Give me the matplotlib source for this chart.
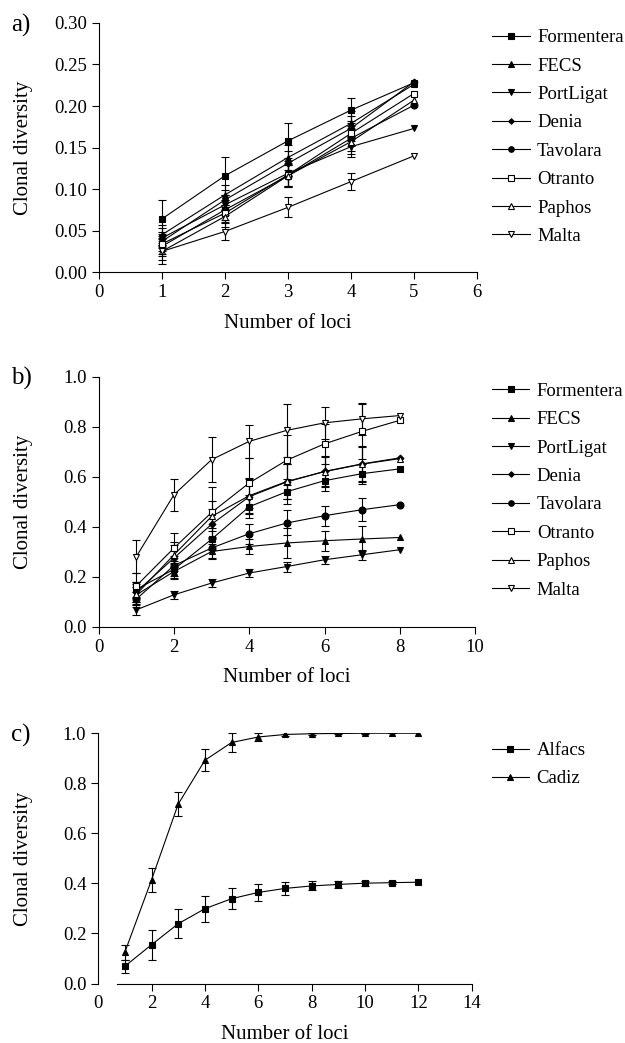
import numpy as np
import matplotlib
matplotlib.use('Agg')
import matplotlib.pyplot as plt

plt.rcParams['font.family'] = ['Liberation Serif', 'DejaVu Serif']
plt.rcParams['font.size'] = 13.5

sites = ['Formentera', 'FECS', 'PortLigat', 'Denia', 'Tavolara', 'Otranto', 'Paphos', 'Malta']
markers = ['s', '^', 'v', 'D', 'o', 's', '^', 'v']
filled = [True, True, True, True, True, False, False, False]

# panel a) loci 1..5
loci_a = [1, 2, 3, 4, 5]
div_a = {
    'Formentera': [0.064, 0.116, 0.158, 0.195, 0.228],
    'FECS':       [0.045, 0.093, 0.138, 0.179, 0.226],
    'PortLigat':  [0.041, 0.081, 0.119, 0.151, 0.173],
    'Denia':      [0.037, 0.087, 0.131, 0.173, 0.229],
    'Tavolara':   [0.031, 0.075, 0.116, 0.161, 0.201],
    'Otranto':    [0.034, 0.071, 0.117, 0.167, 0.215],
    'Paphos':     [0.025, 0.067, 0.116, 0.157, 0.207],
    'Malta':      [0.025, 0.049, 0.078, 0.109, 0.140],
}
err_a = {
    'Formentera': [0.023, 0.023, 0.021, 0.015, 0],
    'FECS':       [0.012, 0.012, 0.015, 0.015, 0],
    'PortLigat':  [0.012, 0.012, 0.015, 0.012, 0],
    'Denia':      [0.012, 0.012, 0.015, 0.015, 0],
    'Tavolara':   [0.012, 0.012, 0.013, 0.015, 0],
    'Otranto':    [0.012, 0.010, 0.013, 0.015, 0],
    'Paphos':     [0.015, 0.012, 0.013, 0.015, 0],
    'Malta':      [0.010, 0.010, 0.012, 0.010, 0],
}

# panel b) loci 1..8
loci_b = [1, 2, 3, 4, 5, 6, 7, 8]
div_b = {
    'Formentera': [0.150, 0.230, 0.350, 0.480, 0.540, 0.584, 0.612, 0.631],
    'FECS':       [0.128, 0.221, 0.301, 0.321, 0.335, 0.344, 0.351, 0.357],
    'PortLigat':  [0.068, 0.128, 0.175, 0.215, 0.241, 0.268, 0.288, 0.308],
    'Denia':      [0.140, 0.275, 0.410, 0.520, 0.579, 0.621, 0.651, 0.675],
    'Tavolara':   [0.111, 0.245, 0.315, 0.372, 0.415, 0.444, 0.468, 0.488],
    'Otranto':    [0.164, 0.315, 0.457, 0.575, 0.666, 0.731, 0.781, 0.825],
    'Paphos':     [0.130, 0.288, 0.441, 0.524, 0.581, 0.620, 0.650, 0.672],
    'Malta':      [0.281, 0.528, 0.668, 0.741, 0.785, 0.815, 0.831, 0.844],
}
err_b = {
    'Formentera': [0.030, 0.035, 0.045, 0.045, 0.050, 0.040, 0.040, 0],
    'FECS':       [0.030, 0.030, 0.030, 0.030, 0.060, 0.040, 0.050, 0],
    'PortLigat':  [0.020, 0.015, 0.015, 0.015, 0.020, 0.015, 0.020, 0],
    'Denia':      [0.040, 0.050, 0.060, 0.070, 0.070, 0.060, 0.070, 0],
    'Tavolara':   [0.030, 0.040, 0.040, 0.040, 0.050, 0.040, 0.045, 0],
    'Otranto':    [0.050, 0.060, 0.100, 0.100, 0.100, 0.080, 0.110, 0],
    'Paphos':     [0.040, 0.050, 0.060, 0.070, 0.070, 0.060, 0.070, 0],
    'Malta':      [0.067, 0.064, 0.090, 0.067, 0.105, 0.065, 0.065, 0],
}

# panel c) loci 1..12
regions_c = ['Alfacs', 'Cadiz']
loci_c = [1, 2, 3, 4, 5, 6, 7, 8, 9, 10, 11, 12]
alfacs = [0.069, 0.155, 0.239, 0.299, 0.339, 0.364, 0.380, 0.390, 0.396, 0.401, 0.403, 0.405]
alfacs_err = [0.027, 0.060, 0.059, 0.052, 0.042, 0.033, 0.025, 0.018, 0.013, 0.010, 0.005, 0]
cadiz = [0.125, 0.414, 0.717, 0.892, 0.963, 0.985, 0.995, 0.998, 0.999, 1.0, 1.0, 1.0]
cadiz_err = [0.030, 0.047, 0.049, 0.043, 0.036, 0.015, 0.008, 0.004, 0.003, 0.002, 0.001, 0]


def draw(ax, x, y, e, mk, fill, label):
    x = np.array(x); y = np.array(y); e = np.array(e)
    m = e > 0
    ax.errorbar(x[m], y[m], yerr=e[m], fmt='none', ecolor='black', elinewidth=0.8,
                capsize=3, capthick=0.8, zorder=2)
    ms = 3.5 if mk == 'D' else 5
    ax.plot(x, y, color='black', lw=0.8, marker=mk, ms=ms,
            mfc='black' if fill else 'white', mec='black', mew=0.8,
            label=label, zorder=3)


def style(ax):
    for s in ['top', 'right']:
        ax.spines[s].set_visible(False)
    ax.set_ylabel('Clonal diversity', fontsize=15)
    ax.set_xlabel('Number of loci', fontsize=15, labelpad=9)
    ax.yaxis.set_label_coords(-0.175, 0.5)
    ax.tick_params(length=5, width=0.8)


def leg(ax, x, y):
    ax.legend(loc='upper left', bbox_to_anchor=(x, y), frameon=False,
              handlelength=2.0, handletextpad=0.4, labelspacing=0.6,
              markerscale=0.8, borderaxespad=0, borderpad=0, fontsize=13.5)


fig = plt.figure(figsize=(6.25, 10.43), dpi=100)

ax1 = fig.add_axes([0.158, 0.739, 0.605, 0.239])
for s, mk, f in zip(sites, markers, filled):
    draw(ax1, loci_a, div_a[s], err_a[s], mk, f, s)
ax1.set_xlim(0, 6)
ax1.set_ylim(0, 0.30)
ax1.set_xticks(range(0, 7))
ax1.set_yticks(np.arange(0, 0.301, 0.05))
ax1.set_yticklabels(['%.2f' % v for v in np.arange(0, 0.301, 0.05)])
style(ax1)
leg(ax1, 1.04, 0.975)

ax2 = fig.add_axes([0.158, 0.399, 0.602, 0.240])
for s, mk, f in zip(sites, markers, filled):
    draw(ax2, loci_b, div_b[s], err_b[s], mk, f, s)
ax2.set_xlim(0, 10)
ax2.set_ylim(0, 1.0)
ax2.set_xticks(range(0, 11, 2))
ax2.set_yticks(np.arange(0, 1.01, 0.2))
ax2.set_yticklabels(['%.1f' % v for v in np.arange(0, 1.01, 0.2)])
style(ax2)
leg(ax2, 1.045, 0.975)

ax3 = fig.add_axes([0.157, 0.057, 0.598, 0.240])
draw(ax3, loci_c, alfacs, alfacs_err, 's', True, regions_c[0])
draw(ax3, loci_c, cadiz, cadiz_err, '^', True, regions_c[1])
ax3.set_xlim(0, 14)
ax3.set_ylim(0, 1.0)
ax3.set_xticks(range(0, 15, 2))
ax3.set_yticks(np.arange(0, 1.01, 0.2))
ax3.set_yticklabels(['%.1f' % v for v in np.arange(0, 1.01, 0.2)])
style(ax3)
ax3.spines['bottom'].set_bounds(0.7, 14)
ax3.xaxis.get_major_ticks()[0].tick1line.set_visible(False)
leg(ax3, 1.053, 0.965)

fig.text(0.018, 0.976, 'a)', fontsize=18, va='center')
fig.text(0.018, 0.637, 'b)', fontsize=18, va='center')
fig.text(0.018, 0.295, 'c)', fontsize=18, va='center')

fig.savefig('out.png', dpi=100)
